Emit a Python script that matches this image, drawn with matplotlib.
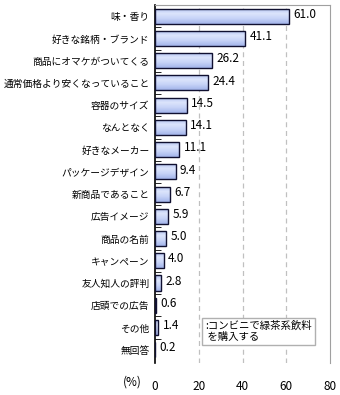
import numpy as np
import matplotlib
matplotlib.use("Agg")
import matplotlib.pyplot as plt
from matplotlib.colors import LinearSegmentedColormap

plt.rcParams['font.family'] = ['Noto Sans CJK JP', 'DejaVu Sans']

labels = ["味・香り", "好きな銘柄・ブランド", "商品にオマケがついてくる",
          "通常価格より安くなっていること", "容器のサイズ", "なんとなく",
          "好きなメーカー", "パッケージデザイン", "新商品であること",
          "広告イメージ", "商品の名前", "キャンペーン", "友人知人の評判",
          "店頭での広告", "その他", "無回答"]
values = [61.0, 41.1, 26.2, 24.4, 14.5, 14.1, 11.1, 9.4, 6.7,
          5.9, 5.0, 4.0, 2.8, 0.6, 1.4, 0.2]
xticks = [0, 20, 40, 60, 80]
legend_text = ":コンビニで緑茶系飲料\n を購入する"

fig = plt.figure(figsize=(3.4, 3.95), dpi=100)
ax = fig.add_axes([0.456, 0.081, 0.515, 0.906])

ypos = np.arange(len(labels))
h = 0.68
grad = LinearSegmentedColormap.from_list(
    "g", ["#b0c0f0", "#dce5fc", "#c6d2f7", "#a2b4ea"])
bars = ax.barh(ypos, values, height=h, color="none", edgecolor="#101030",
               linewidth=1.0, zorder=3)
g = np.linspace(0, 1, 64).reshape(-1, 1)
for b in bars:
    x0, y0 = b.get_x(), b.get_y()
    im = ax.imshow(g, cmap=grad, aspect="auto", zorder=2,
                   extent=(x0, x0 + b.get_width(), y0 + b.get_height(), y0),
                   interpolation="bilinear")
    im.set_clip_path(b)

for y, v in zip(ypos, values):
    ax.text(v + 2.0, y - 0.08, f"{v:.1f}", va="center", ha="left", fontsize=8.5)

ax.set_xlim(0, 80)
ax.set_ylim(15.6, -0.5)
ax.set_yticks(ypos)
ax.set_yticklabels(labels, fontsize=7.0)
ax.set_yticks(ypos - 0.5, minor=True)
ax.tick_params(axis="y", which="major", length=0, pad=4)
ax.tick_params(axis="y", which="minor", length=4, direction="in", color="black")
ax.set_xticks(xticks)
ax.set_xticklabels([str(t) for t in xticks], fontsize=8.5)
ax.tick_params(axis="x", length=0, pad=12)
for t in xticks[1:-1]:
    ax.axvline(t, color="#c0c0c0", linestyle=(0, (4, 3)), linewidth=0.9, zorder=1)

ax.spines["left"].set_color("black")
ax.spines["left"].set_linewidth(1.2)
ax.spines["top"].set_color("#a0a0a0")
ax.spines["right"].set_color("#a0a0a0")
ax.spines["bottom"].set_visible(False)

fig.text(0.39, 0.033, "(%)", fontsize=8.5, ha="center", va="center")

ax.text(0.285, 0.088, legend_text, transform=ax.transAxes, fontsize=7.5,
        va="center", ha="left", linespacing=1.1,
        bbox=dict(facecolor="white", edgecolor="#b0b0b0", boxstyle="square,pad=0.3"))

fig.savefig("out.png", dpi=100)
